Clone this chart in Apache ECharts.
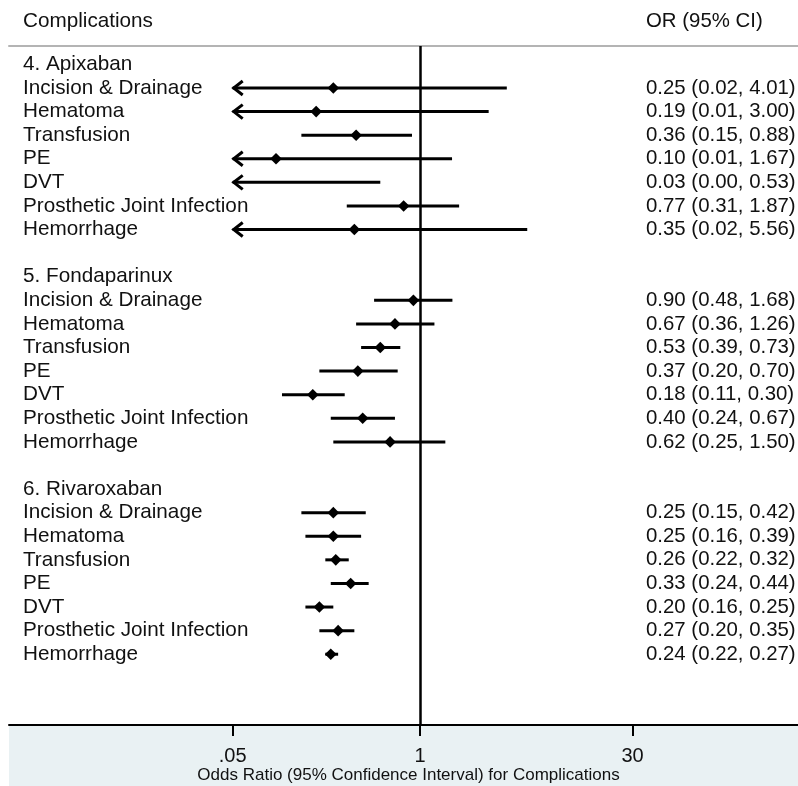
<!DOCTYPE html>
<html><head><meta charset="utf-8">
<script src="https://cdn.jsdelivr.net/npm/echarts@6/dist/echarts.min.js"></script>
<style>html,body{margin:0;padding:0;background:#fff}#c{width:798px;height:786px}</style>
</head><body><div id="c"></div>
<script>
// ---- data ----
const groups = ['4. Apixaban', '5. Fondaparinux', '6. Rivaroxaban'];
const outcomes = ['Incision & Drainage', 'Hematoma', 'Transfusion', 'PE', 'DVT', 'Prosthetic Joint Infection', 'Hemorrhage'];

const estApixaban = [0.25, 0.19, 0.36, 0.10, 0.03, 0.77, 0.35];
const loApixaban  = [0.02, 0.01, 0.15, 0.01, 0.00, 0.31, 0.02];
const hiApixaban  = [4.01, 3.00, 0.88, 1.67, 0.53, 1.87, 5.56];

const estFondaparinux = [0.90, 0.67, 0.53, 0.37, 0.18, 0.40, 0.62];
const loFondaparinux  = [0.48, 0.36, 0.39, 0.20, 0.11, 0.24, 0.25];
const hiFondaparinux  = [1.68, 1.26, 0.73, 0.70, 0.30, 0.67, 1.50];

const estRivaroxaban = [0.25, 0.25, 0.26, 0.33, 0.20, 0.27, 0.24];
const loRivaroxaban  = [0.15, 0.16, 0.22, 0.24, 0.16, 0.20, 0.22];
const hiRivaroxaban  = [0.42, 0.39, 0.32, 0.44, 0.25, 0.35, 0.27];

const tickValues = [0.05, 1, 30];
const tickLabels = ['.05', '1', '30'];
const headerLeft = 'Complications';
const headerRight = 'OR (95% CI)';
const axisTitle = 'Odds Ratio (95% Confidence Interval) for Complications';

// ---- build rows ----
const estAll = [estApixaban, estFondaparinux, estRivaroxaban];
const loAll = [loApixaban, loFondaparinux, loRivaroxaban];
const hiAll = [hiApixaban, hiFondaparinux, hiRivaroxaban];
const rowLabels = [], rowOR = [], points = [];
groups.forEach((g, gi) => {
  rowLabels.push(g); rowOR.push('');
  outcomes.forEach((o, k) => {
    const row = rowLabels.length;
    const e = estAll[gi][k], l = loAll[gi][k], h = hiAll[gi][k];
    rowLabels.push(o);
    rowOR.push(e.toFixed(2) + ' (' + l.toFixed(2) + ', ' + h.toFixed(2) + ')');
    points.push([row, l, e, h]);
  });
  if (gi < groups.length - 1) { rowLabels.push(''); rowOR.push(''); }
});
const labelRows = rowLabels.map((s, i) => i).filter(i => rowLabels[i] !== '');
const orRows = rowOR.map((s, i) => i).filter(i => rowOR[i] !== '');

const L = Math.log10;
const X_MIN = -2.855, X_MAX = 2.626;
const Y_MIN = -0.78, Y_MAX = 28;
const clipLo = tickValues[0], clipHi = tickValues[tickValues.length - 1];
const FONT = '"Liberation Sans", Arial, sans-serif';
const TXT = '#111';

const chart = echarts.init(document.getElementById('c'), null, {renderer: 'canvas'});

function renderItem(params, api) {
  const row = api.value(0), lo = api.value(1), e = api.value(2), hi = api.value(3);
  const a = Math.max(lo > 0 ? L(lo) : -Infinity, L(clipLo));
  const b = Math.min(L(hi), L(clipHi));
  const p1 = api.coord([a, row]);
  const p2 = api.coord([b, row]);
  const children = [{
    type: 'line',
    shape: {x1: p1[0], y1: p1[1], x2: p2[0], y2: p2[1]},
    style: {stroke: '#000', lineWidth: 3}
  }];
  if (lo < clipLo) {
    children.push({
      type: 'polyline',
      shape: {points: [[p1[0] + 10, p1[1] - 7], [p1[0] + 1, p1[1]], [p1[0] + 10, p1[1] + 7]]},
      style: {stroke: '#000', lineWidth: 3, fill: null}
    });
  }
  if (e >= clipLo) {
    const c = api.coord([L(e), row]);
    children.push({
      type: 'polygon',
      shape: {points: [[c[0] - 5.8, c[1]], [c[0], c[1] - 5.8], [c[0] + 5.8, c[1]], [c[0], c[1] + 5.8]]},
      style: {fill: '#000'}
    });
  }
  return {type: 'group', children};
}

const yBase = {
  type: 'value', inverse: true, min: Y_MIN, max: Y_MAX,
  axisLine: {show: false, onZero: false}, axisTick: {show: false}, splitLine: {show: false}
};

chart.setOption({
  animation: false,
  backgroundColor: '#fff',
  grid: {left: 9, right: 0, top: 46, bottom: 61, containLabel: false, outerBoundsMode: 'none'},
  xAxis: [{
    type: 'value', min: X_MIN, max: X_MAX, position: 'bottom',
    axisLine: {show: true, onZero: false, lineStyle: {color: '#000', width: 2}},
    axisTick: {show: true, customValues: tickValues.map(L), length: 11, lineStyle: {color: '#000', width: 2}},
    axisLabel: {
      show: true, customValues: tickValues.map(L), margin: 21,
      fontSize: 20, color: TXT, fontFamily: FONT,
      formatter: function (v) {
        let best = 0;
        tickValues.forEach((t, i) => { if (Math.abs(L(t) - v) < Math.abs(L(tickValues[best]) - v)) best = i; });
        return tickLabels[best];
      }
    },
    splitLine: {show: false}
  }, {
    type: 'value', min: X_MIN, max: X_MAX, position: 'top',
    axisLine: {show: true, onZero: false, lineStyle: {color: '#b4b4b4', width: 2}},
    axisTick: {show: false}, axisLabel: {show: false}, splitLine: {show: false}
  }],
  yAxis: [Object.assign({}, yBase, {
    position: 'left',
    axisLabel: {
      show: true, inside: true, align: 'left', margin: 14, customValues: labelRows,
      fontSize: 20.7, color: TXT, fontFamily: FONT, padding: [3, 0, 0, 0],
      formatter: v => rowLabels[Math.round(v)]
    }
  }), Object.assign({}, yBase, {
    position: 'right',
    axisLabel: {
      show: true, inside: true, align: 'left', margin: 152, customValues: orRows,
      fontSize: 20.4, color: TXT, fontFamily: FONT, padding: [3, 0, 0, 0],
      formatter: v => rowOR[Math.round(v)]
    }
  })],
  graphic: [
    {type: 'rect', z: -10, shape: {x: 9, y: 726, width: 789, height: 60}, style: {fill: '#e9f1f3'}},
    {type: 'text', x: 23, y: 21.5, style: {text: headerLeft, fontSize: 20.7, fontFamily: FONT, fill: TXT, verticalAlign: 'middle', align: 'left'}},
    {type: 'text', x: 646, y: 21.5, style: {text: headerRight, fontSize: 20.4, fontFamily: FONT, fill: TXT, verticalAlign: 'middle', align: 'left'}},
    {type: 'text', x: 408.5, y: 775.5, style: {text: axisTitle, fontSize: 17, fontFamily: FONT, fill: TXT, verticalAlign: 'middle', align: 'center'}}
  ],
  series: [{
    type: 'custom',
    xAxisIndex: 0, yAxisIndex: 0,
    renderItem: renderItem,
    encode: {x: [1, 2, 3], y: 0},
    data: points,
    markLine: {
      silent: true, symbol: 'none', animation: false,
      label: {show: false},
      lineStyle: {color: '#000', width: 2.5, type: 'solid'},
      data: [{xAxis: L(tickValues[1])}]
    }
  }]
});
</script>
</body></html>
